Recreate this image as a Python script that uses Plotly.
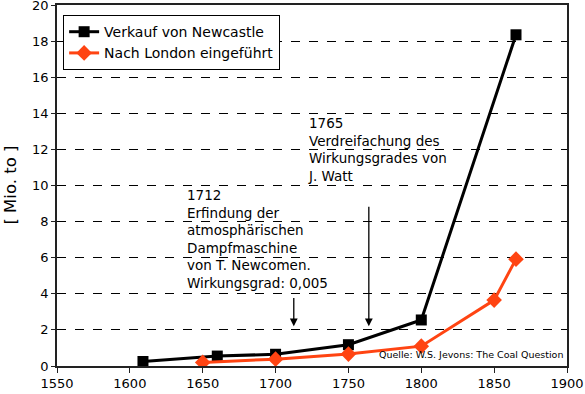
import plotly.graph_objects as go

# Data
years_newcastle = [1609, 1660, 1700, 1750, 1800, 1865]
values_newcastle = [0.25, 0.55, 0.65, 1.18, 2.55, 18.35]
years_london = [1650, 1700, 1750, 1800, 1850, 1865]
values_london = [0.2, 0.38, 0.66, 1.1, 3.65, 5.92]

name_newcastle = "Verkauf von Newcastle"
name_london = "Nach London eingeführt"

x_ticks = [1550, 1600, 1650, 1700, 1750, 1800, 1850, 1900]
y_ticks = [0, 2, 4, 6, 8, 10, 12, 14, 16, 18, 20]

text_1712 = "1712<br>Erfindung der<br>atmosphärischen<br>Dampfmaschine<br>von T. Newcomen.<br>Wirkungsgrad: 0,005"
text_1765 = "1765<br>Verdreifachung des<br>Wirkungsgrades von<br>J. Watt"
source_text = "Quelle: W.S. Jevons: The Coal Question"
y_title = "[ Mio. to ]"

FONT = "DejaVu Sans"
RED = "#ff4412"

fig = go.Figure()
fig.add_trace(go.Scatter(
    x=years_newcastle, y=values_newcastle, name=name_newcastle,
    mode="lines+markers",
    line=dict(color="black", width=3),
    marker=dict(symbol="square", size=11, color="black"),
))
fig.add_trace(go.Scatter(
    x=years_london, y=values_london, name=name_london,
    mode="lines+markers",
    line=dict(color=RED, width=3),
    marker=dict(symbol="diamond", size=12, color=RED),
))

# arrows
for xa, y_from, y_to in [(1712.5, 3.85, 2.2), (1764, 8.9, 2.2)]:
    fig.add_annotation(
        x=xa, y=y_to, ax=xa, ay=y_from, xref="x", yref="y", axref="x", ayref="y",
        showarrow=True, arrowhead=2, arrowsize=1.2, arrowwidth=1.3, arrowcolor="black", text="",
    )

fig.add_annotation(x=1638, y=10.02, xref="x", yref="y", text=text_1712, showarrow=False,
                   xanchor="left", yanchor="top", align="left",
                   font=dict(family=FONT, size=13.5, color="black"))
fig.add_annotation(x=1721, y=14.0, xref="x", yref="y", text=text_1765, showarrow=False,
                   xanchor="left", yanchor="top", align="left",
                   font=dict(family=FONT, size=13.5, color="black"))
fig.add_annotation(x=0.996, y=0.012, xref="paper", yref="paper", text=source_text, showarrow=False,
                   xanchor="right", yanchor="bottom",
                   font=dict(family=FONT, size=9.5, color="black"))
fig.add_annotation(x=-0.092, y=0.5, xref="paper", yref="paper", text=y_title, showarrow=False,
                   xanchor="center", yanchor="middle", textangle=-90,
                   font=dict(family=FONT, size=16.5, color="black"))

fig.update_layout(
    width=585, height=394,
    margin=dict(l=57, r=18, t=5, b=28, autoexpand=False),
    paper_bgcolor="white", plot_bgcolor="white",
    font=dict(family=FONT, size=13, color="black"),
    showlegend=True,
    legend=dict(x=0.012, y=0.972, xanchor="left", yanchor="top",
                bgcolor="white", bordercolor="black", borderwidth=1,
                font=dict(family=FONT, size=14, color="black"),
                itemwidth=30, tracegroupgap=0),
    xaxis=dict(range=[1550, 1900], tickvals=x_ticks, showgrid=False, zeroline=False,
               automargin=False,
               showline=True, linecolor="#222", linewidth=1.5, mirror=True,
               ticks="outside", ticklen=5, tickcolor="#222", tickwidth=1,
               tickfont=dict(family=FONT, size=13)),
    yaxis=dict(range=[0, 20], tickvals=y_ticks, showgrid=True, gridcolor="black", gridwidth=1,
               griddash="dash", zeroline=False, automargin=False, ticklabeloverflow="allow",
               showline=True, linecolor="#222", linewidth=1.5, mirror=True,
               ticks="outside", ticklen=4, tickcolor="#222", tickwidth=1,
               tickfont=dict(family=FONT, size=13)),
)

fig.write_html("out.html", config={"displayModeBar": False},
               post_script="document.body.style.margin='0';document.body.style.overflow='hidden';")
